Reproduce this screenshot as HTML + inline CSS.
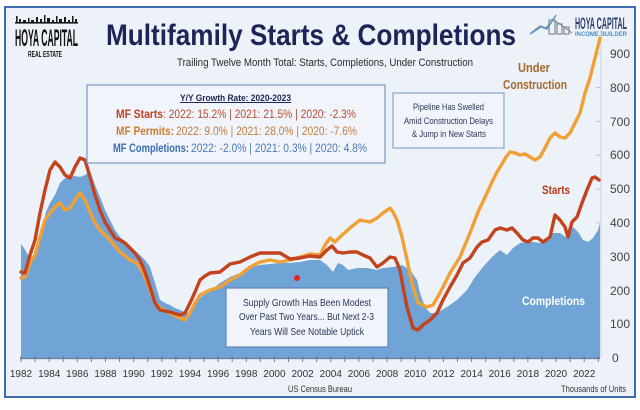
<!DOCTYPE html>
<html><head><meta charset="utf-8">
<style>
html,body{margin:0;padding:0;background:#fff;}
svg{display:block;font-family:"Liberation Sans",sans-serif;}
</style></head>
<body>
<svg width="640" height="410" viewBox="0 0 640 410" xmlns="http://www.w3.org/2000/svg">
<rect width="640" height="410" fill="#ffffff"/>
<rect x="5" y="7" width="630" height="390" fill="#edf1f8" stroke="#3e6cae" stroke-width="2"/>

<!-- Left logo -->
<g fill="#1a1a1a">
  <rect x="15" y="22" width="63" height="1.6"/>
  <rect x="16" y="16" width="1.6" height="7"/>
  <rect x="19" y="19" width="2" height="4"/>
  <rect x="23" y="20" width="3" height="3"/>
  <rect x="28" y="18" width="1.5" height="5"/>
  <rect x="31" y="20" width="3" height="3"/>
  <rect x="36" y="17" width="2" height="6"/>
  <rect x="40" y="19" width="2" height="4"/>
  <rect x="44" y="15" width="1.5" height="8"/>
  <rect x="47" y="18" width="3" height="5"/>
  <rect x="52" y="20" width="2" height="3"/>
  <rect x="56" y="16" width="1.5" height="7"/>
  <rect x="59" y="19" width="3" height="4"/>
  <rect x="64" y="17" width="2" height="6"/>
  <rect x="68" y="20" width="2" height="3"/>
  <rect x="72" y="16" width="1.5" height="7"/>
  <rect x="75" y="19" width="2" height="4"/>
</g>
<text x="15" y="46" font-size="24" font-weight="bold" fill="#111" textLength="63" lengthAdjust="spacingAndGlyphs">HOYA CAPITAL</text>
<text x="28" y="57" font-size="8" font-weight="bold" fill="#111" textLength="34" lengthAdjust="spacingAndGlyphs">REAL ESTATE</text>

<!-- Title -->
<text x="106" y="45" font-size="30" font-weight="bold" fill="#1f2456" textLength="410" lengthAdjust="spacingAndGlyphs">Multifamily Starts &amp; Completions</text>
<text x="177" y="66" font-size="11" fill="#2a2a2a" textLength="296" lengthAdjust="spacingAndGlyphs">Trailing Twelve Month Total: Starts, Completions, Under Construction</text>

<!-- Right logo -->
<g fill="none" stroke="#8a8f99" stroke-width="1.3">
  <path d="M531 33 L540 26 L546 28 L553 20 L560 24 L572 33"/>
  <rect x="549" y="20" width="6" height="14"/>
  <rect x="557" y="24" width="5" height="10"/>
  <rect x="564" y="27" width="5" height="7"/>
</g>
<path d="M530 34 L541 27 L547 29 L556 15" fill="none" stroke="#4a8fd0" stroke-width="1.3"/>
<text x="575" y="29" font-size="17" font-weight="bold" fill="#2c3e70" textLength="52" lengthAdjust="spacingAndGlyphs">HOYA CAPITAL</text>
<text x="575" y="36" font-size="6.5" font-weight="bold" fill="#4a8fd0" textLength="52" lengthAdjust="spacingAndGlyphs">INCOME BUILDER</text>

<!-- Right axis -->
<line x1="601" y1="30" x2="601" y2="358" stroke="#c9d3e2" stroke-width="1"/>
<g stroke="#b8c4d6" stroke-width="1">
  <line x1="596" y1="324.2" x2="601" y2="324.2"/>
  <line x1="596" y1="290.4" x2="601" y2="290.4"/>
  <line x1="596" y1="256.6" x2="601" y2="256.6"/>
  <line x1="596" y1="222.8" x2="601" y2="222.8"/>
  <line x1="596" y1="189" x2="601" y2="189"/>
  <line x1="596" y1="155.2" x2="601" y2="155.2"/>
  <line x1="596" y1="121.4" x2="601" y2="121.4"/>
  <line x1="596" y1="87.6" x2="601" y2="87.6"/>
  <line x1="596" y1="53.8" x2="601" y2="53.8"/>
</g>
<g font-size="12" fill="#444">
  <text x="610" y="58">900</text>
  <text x="610" y="92">800</text>
  <text x="610" y="126">700</text>
  <text x="610" y="159">600</text>
  <text x="610" y="193">500</text>
  <text x="610" y="227">400</text>
  <text x="610" y="261">300</text>
  <text x="610" y="295">200</text>
  <text x="610" y="328">100</text>
  <text x="612" y="362">0</text>
</g>

<!-- Completions area -->
<polygon fill="#70a3d6" points="21,358 21,244 24,248 28,255 33,258 38,245 42,228 46,212 50,203 55,195 60,183 65,178 70,177 75,176 80,177 85,175 90,171 95,185 100,197 105,210 110,220 115,230 120,237 125,242 130,247 135,251 140,255 145,260 150,267 155,283 160,300 165,303 170,305 175,308 180,310 185,312 190,313 195,306 200,298 205,294 210,290 215,287 220,283 225,280 230,277 235,275 240,273 245,270 250,268 255,266 260,265 270,264 280,263 290,263 300,262 310,260 320,260 327,265 333,272 338,263 343,265 348,270 357,268 367,268 377,270 383,268 393,267 402,265 410,270 417,280 420,293 425,307 430,313 437,313 447,307 457,300 467,290 475,277 483,267 492,257 500,250 507,255 513,248 520,243 527,242 533,242 540,243 547,240 553,233 560,233 567,238 573,227 578,232 583,240 588,242 593,238 598,230 600,223 600,358"/>

<!-- Under construction -->
<polyline fill="none" stroke="#f0a035" stroke-width="3.4" stroke-linejoin="round" stroke-linecap="round" points="21,278 25,277 30,263 35,255 40,237 45,220 50,213 55,207 60,203 65,210 70,208 75,200 80,193 85,200 90,212 95,223 100,230 110,240 120,252 130,260 135,262 140,267 145,277 150,290 155,303 160,308 170,313 180,318 185,320 190,313 195,303 200,295 210,290 220,287 230,280 240,275 250,267 260,262 270,260 280,262 290,260 300,257 310,254 320,255 325,245 330,238 335,242 340,237 350,228 360,220 370,222 377,218 383,213 390,208 393,212 397,220 402,237 407,260 412,283 418,303 427,307 433,305 440,293 450,273 460,257 470,233 478,212 487,193 492,182 497,172 502,164 506,157 510,152 515,153 520,155 525,154 530,157 535,160 540,157 545,148 550,138 555,133 560,137 565,138 570,133 575,123 580,113 585,93 590,78 595,58 600,38"/>

<!-- Starts -->
<polyline fill="none" stroke="#c4431f" stroke-width="3.4" stroke-linejoin="round" stroke-linecap="round" points="21,272 25,273 30,255 35,240 40,213 45,190 50,170 55,162 60,167 65,175 70,178 75,167 80,158 85,160 90,177 95,195 100,210 105,222 110,230 115,238 120,240 125,243 130,248 135,253 140,260 145,272 150,287 155,303 160,310 170,312 180,315 185,313 190,303 195,292 200,280 205,276 210,273 220,272 230,264 240,262 250,257 260,253 270,253 280,253 290,259 300,258 310,256 320,257 327,250 332,246 337,252 343,253 350,252 357,252 363,255 370,258 377,267 383,263 390,257 395,258 400,270 403,287 407,307 413,328 418,330 423,325 430,320 437,313 443,300 450,287 457,275 463,263 470,258 477,247 482,242 488,240 495,230 500,228 507,230 512,228 517,233 523,240 528,242 533,238 538,238 543,242 550,237 555,215 560,220 565,227 568,237 572,222 577,217 582,203 587,190 592,178 595,177 599,180"/>

<!-- X axis -->
<line x1="20" y1="358.5" x2="600" y2="358.5" stroke="#6b7d99" stroke-width="1.2"/>
<line x1="20.5" y1="359" x2="600" y2="359" stroke="#6b7d99" stroke-width="6" stroke-dasharray="1 13.08"/>
<g font-size="10" fill="#333" text-anchor="middle">
  <text x="21" y="377">1982</text>
  <text x="49.2" y="377">1984</text>
  <text x="77.3" y="377">1986</text>
  <text x="105.5" y="377">1988</text>
  <text x="133.6" y="377">1990</text>
  <text x="161.8" y="377">1992</text>
  <text x="190" y="377">1994</text>
  <text x="218.1" y="377">1996</text>
  <text x="246.3" y="377">1998</text>
  <text x="274.4" y="377">2000</text>
  <text x="302.6" y="377">2002</text>
  <text x="330.8" y="377">2004</text>
  <text x="358.9" y="377">2006</text>
  <text x="387.1" y="377">2008</text>
  <text x="415.2" y="377">2010</text>
  <text x="443.4" y="377">2012</text>
  <text x="471.6" y="377">2014</text>
  <text x="499.7" y="377">2016</text>
  <text x="527.9" y="377">2018</text>
  <text x="556" y="377">2020</text>
  <text x="584.2" y="377">2022</text>
</g>
<text x="288" y="392" font-size="9.5" fill="#333" textLength="64" lengthAdjust="spacingAndGlyphs">US Census Bureau</text>
<text x="561" y="392" font-size="9.5" fill="#333" textLength="65" lengthAdjust="spacingAndGlyphs">Thousands of Units</text>

<!-- Series labels -->
<text x="518" y="72" font-size="12.5" font-weight="bold" fill="#a66a28" textLength="32" lengthAdjust="spacingAndGlyphs">Under</text>
<text x="503" y="89" font-size="12.5" font-weight="bold" fill="#a66a28" textLength="64" lengthAdjust="spacingAndGlyphs">Construction</text>
<text x="542" y="194" font-size="12" font-weight="bold" fill="#b5391e" textLength="28" lengthAdjust="spacingAndGlyphs">Starts</text>
<text x="522" y="305" font-size="12" font-weight="bold" fill="#ffffff" textLength="63" lengthAdjust="spacingAndGlyphs">Completions</text>

<!-- Y/Y box -->
<rect x="87" y="85" width="298" height="78" fill="#f1f4fa" stroke="#7fa0cc" stroke-width="1.3"/>
<text x="180" y="101" font-size="9" font-weight="bold" fill="#1f2456" textLength="111" lengthAdjust="spacingAndGlyphs" text-decoration="underline">Y/Y Growth Rate: 2020-2023</text>
<line x1="180" y1="102.5" x2="291" y2="102.5" stroke="#1f2456" stroke-width="0.8"/>
<text x="116" y="118" font-size="11.5" font-weight="bold" fill="#c0401f" textLength="47" lengthAdjust="spacingAndGlyphs">MF Starts</text>
<text x="163" y="118" font-size="11.5" fill="#b84a30" textLength="193" lengthAdjust="spacingAndGlyphs">: 2022: 15.2% | 2021: 21.5% |  2020: -2.3%</text>
<text x="116" y="135" font-size="11.5" font-weight="bold" fill="#d07a30" textLength="58" lengthAdjust="spacingAndGlyphs">MF Permits:</text>
<text x="176" y="135" font-size="11.5" fill="#c27d3e" textLength="181" lengthAdjust="spacingAndGlyphs">2022: 9.0% | 2021: 28.0% |  2020: -7.6%</text>
<text x="113" y="152" font-size="11.5" font-weight="bold" fill="#3a6fb0" textLength="76" lengthAdjust="spacingAndGlyphs">MF Completions:</text>
<text x="191" y="152" font-size="11.5" fill="#4a7ab5" textLength="176" lengthAdjust="spacingAndGlyphs">2022: -2.0% | 2021: 0.3% |  2020: 4.8%</text>

<!-- Pipeline box -->
<rect x="393" y="93" width="111" height="55" fill="#f1f4fa" stroke="#8aa6cc" stroke-width="1.2"/>
<g font-size="9.5" fill="#2b3558">
  <text x="413" y="110" textLength="71" lengthAdjust="spacingAndGlyphs">Pipeline Has Swelled</text>
  <text x="404" y="124" textLength="89" lengthAdjust="spacingAndGlyphs">Amid Construction Delays</text>
  <text x="412" y="137" textLength="74" lengthAdjust="spacingAndGlyphs">&amp; Jump in New Starts</text>
</g>

<!-- Supply box -->
<rect x="226" y="288" width="162" height="59" fill="#f1f4fa" stroke="#5f86bb" stroke-width="1.2"/>
<g font-size="10.5" fill="#2b3558">
  <text x="243" y="306" textLength="128" lengthAdjust="spacingAndGlyphs">Supply Growth Has Been Modest</text>
  <text x="239" y="320" textLength="135" lengthAdjust="spacingAndGlyphs">Over Past Two Years... But Next 2-3</text>
  <text x="250" y="335" textLength="114" lengthAdjust="spacingAndGlyphs">Years Will See Notable Uptick</text>
</g>
<circle cx="297" cy="278" r="3" fill="#e8201a"/>
</svg>
</body></html>
